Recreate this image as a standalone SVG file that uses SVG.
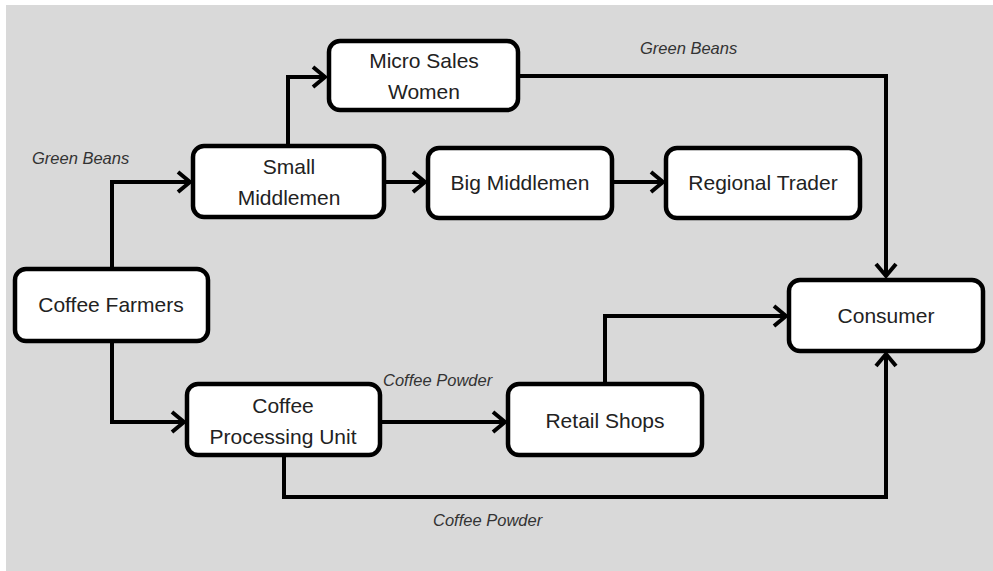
<svg xmlns="http://www.w3.org/2000/svg" width="993" height="571" viewBox="0 0 993 571">
<defs>
<style>
.box{fill:#fff;stroke:#000;stroke-width:4.5}
.t{font-family:"Liberation Sans",Arial,sans-serif;font-size:21px;fill:#222;text-anchor:middle}
.lbl{font-family:"Liberation Sans",Arial,sans-serif;font-size:16.5px;font-style:italic;fill:#333}
.c{fill:none;stroke:#000;stroke-width:4;stroke-linejoin:miter}
</style>
<marker id="ah" viewBox="-20 -15 30 30" markerWidth="30" markerHeight="30" refX="0" refY="0" orient="auto" markerUnits="userSpaceOnUse">
<path d="M-12,-10 L0,0 L-12,10" fill="none" stroke="#000" stroke-width="4"/>
</marker>
</defs>
<rect x="0" y="0" width="993" height="571" fill="#fff"/>
<rect x="6" y="5" width="987" height="566" fill="#d9d9d9"/>
<g id="connectors">
<path class="c" d="M112,270 V182 H190" marker-end="url(#ah)"/>
<path class="c" d="M112,342 V422 H184" marker-end="url(#ah)"/>
<path class="c" d="M288,146 V77 H325" marker-end="url(#ah)"/>
<path class="c" d="M385,182 H425" marker-end="url(#ah)"/>
<path class="c" d="M612,182 H663" marker-end="url(#ah)"/>
<path class="c" d="M518,76 H886 V276" marker-end="url(#ah)"/>
<path class="c" d="M605,383 V316 H786" marker-end="url(#ah)"/>
<path class="c" d="M380,422 H505" marker-end="url(#ah)"/>
<path class="c" d="M284,455 V497 H886 V354" marker-end="url(#ah)"/>
</g>
<g id="labels">
<text class="lbl" x="32" y="164">Green  Beans</text>
<text class="lbl" x="640" y="54">Green  Beans</text>
<text class="lbl" x="383" y="386">Coffee Powder</text>
<text class="lbl" x="433" y="526">Coffee Powder</text>
</g>
<g id="micro-sales-women">
<rect class="box" x="329" y="41" width="189" height="69" rx="11"/>
<text class="t" x="424" y="68">Micro Sales</text>
<text class="t" x="424" y="99">Women</text>
</g>
<g id="small-middlemen">
<rect class="box" x="193" y="146" width="191" height="71" rx="11"/>
<text class="t" x="289" y="174">Small</text>
<text class="t" x="289" y="205">Middlemen</text>
</g>
<g id="big-middlemen">
<rect class="box" x="428" y="148" width="184" height="70" rx="11"/>
<text class="t" x="520" y="190">Big Middlemen</text>
</g>
<g id="regional-trader">
<rect class="box" x="666" y="148" width="194" height="70" rx="11"/>
<text class="t" x="763" y="190">Regional Trader</text>
</g>
<g id="coffee-farmers">
<rect class="box" x="15" y="269" width="193" height="72" rx="11"/>
<text class="t" x="111" y="312">Coffee Farmers</text>
</g>
<g id="consumer">
<rect class="box" x="789" y="280" width="194" height="71" rx="11"/>
<text class="t" x="886" y="323">Consumer</text>
</g>
<g id="coffee-processing-unit">
<rect class="box" x="187" y="384" width="193" height="71" rx="11"/>
<text class="t" x="283" y="413">Coffee</text>
<text class="t" x="283" y="444">Processing Unit</text>
</g>
<g id="retail-shops">
<rect class="box" x="508" y="384" width="194" height="71" rx="11"/>
<text class="t" x="605" y="428">Retail Shops</text>
</g>
</svg>
